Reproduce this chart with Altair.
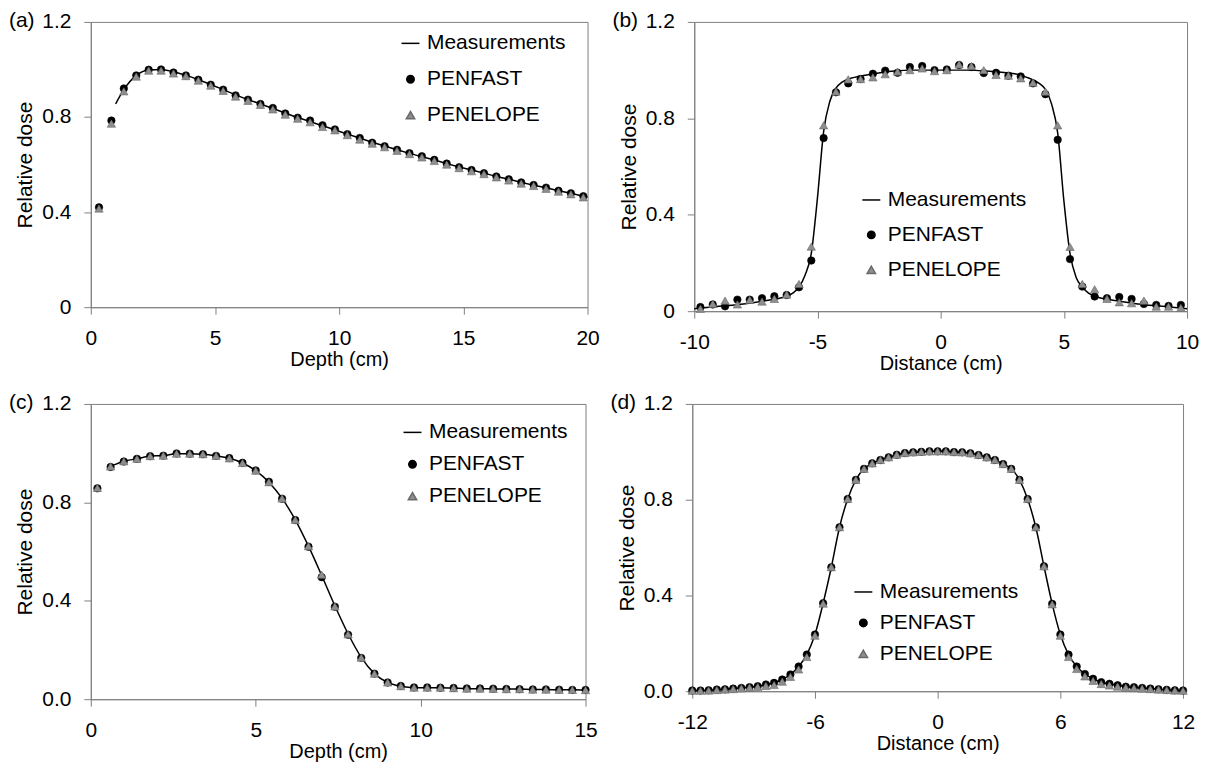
import altair as alt
import pandas as pd

SERIES = ["Measurements", "PENFAST", "PENELOPE"]

# ---------------- Panel (a): depth dose ----------------
a_meas_x = [1.0] + [1.33 + 0.5 * i for i in range(38)] + [20.0]
a_meas_y = [0.855, 0.915, 0.975, 0.998, 1.0, 0.99, 0.975, 0.957, 0.937, 0.915,
            0.893, 0.873, 0.855, 0.836, 0.816, 0.798, 0.781, 0.763, 0.746, 0.728,
            0.711, 0.694, 0.678, 0.662, 0.647, 0.633, 0.619, 0.604, 0.59, 0.577,
            0.564, 0.55, 0.538, 0.525, 0.513, 0.502, 0.49, 0.479, 0.467, 0.463]
a_pts_x = [0.33 + 0.5 * i for i in range(40)]
a_penfast = [0.42, 0.785, 0.92, 0.975, 0.999, 1.0, 0.987, 0.975, 0.957, 0.936,
             0.915, 0.891, 0.873, 0.855, 0.838, 0.815, 0.797, 0.785, 0.765, 0.748,
             0.728, 0.712, 0.692, 0.677, 0.662, 0.648, 0.635, 0.62, 0.604, 0.589,
             0.577, 0.564, 0.55, 0.538, 0.525, 0.514, 0.503, 0.49, 0.479, 0.467]
a_penelope = [0.415, 0.772, 0.908, 0.97, 0.995, 0.995, 0.983, 0.972, 0.953, 0.932,
              0.91, 0.886, 0.868, 0.851, 0.832, 0.81, 0.793, 0.778, 0.758, 0.744,
              0.724, 0.705, 0.688, 0.673, 0.658, 0.644, 0.63, 0.615, 0.6, 0.585,
              0.572, 0.56, 0.546, 0.533, 0.52, 0.51, 0.498, 0.486, 0.475, 0.462]

# ---------------- Panel (b): lateral profile ----------------
b_meas_x = [-10, -9, -8, -7, -6.5, -6, -5.75, -5.5, -5.25, -5.0,
            -4.75, -4.5, -4.25, -4.0, -3.5, -3.0, -2.0, -1.0, 0, 1.0,
            2.0, 3.0, 3.5, 4.0, 4.25, 4.5, 4.75, 5.0, 5.25, 5.5,
            5.75, 6.0, 6.5, 7.0, 8.0, 9.0, 10.0]
b_meas_y = [0.01, 0.02, 0.03, 0.045, 0.055, 0.075, 0.1, 0.15, 0.24, 0.47,
            0.745, 0.87, 0.925, 0.95, 0.97, 0.98, 0.995, 1.0, 1.0, 1.0,
            0.995, 0.985, 0.97, 0.945, 0.92, 0.86, 0.74, 0.46, 0.24, 0.14,
            0.1, 0.075, 0.055, 0.045, 0.03, 0.02, 0.01]
b_pts_x = [-9.75 + 0.5 * i for i in range(40)]
b_penfast = [0.017, 0.028, 0.02, 0.048, 0.048, 0.054, 0.062, 0.067, 0.099, 0.21,
             0.718, 0.908, 0.945, 0.963, 0.985, 0.998, 0.989, 1.013, 1.017, 1.0,
             1.003, 1.021, 1.013, 0.988, 0.989, 0.977, 0.974, 0.945, 0.9, 0.711,
             0.216, 0.102, 0.061, 0.054, 0.059, 0.051, 0.03, 0.026, 0.022, 0.026]
b_penelope = [0.01, 0.03, 0.044, 0.028, 0.047, 0.04, 0.051, 0.069, 0.113, 0.268,
              0.771, 0.911, 0.962, 0.963, 0.97, 0.983, 0.994, 1.0, 1.007, 0.996,
              1.0, 1.024, 1.017, 1.0, 0.98, 0.977, 0.966, 0.948, 0.911, 0.771,
              0.267, 0.113, 0.091, 0.051, 0.037, 0.033, 0.044, 0.019, 0.019, 0.014]

# ---------------- Panel (c): depth dose ----------------
c_pts_x = [round(0.2 + 0.4 * i, 2) for i in range(38)]
c_penelope = [0.859, 0.946, 0.967, 0.977, 0.988, 0.99, 0.998, 0.998, 0.996, 0.989,
              0.979, 0.96, 0.929, 0.882, 0.816, 0.729, 0.622, 0.506, 0.377, 0.264,
              0.169, 0.104, 0.068, 0.053, 0.047, 0.047, 0.047, 0.045, 0.043, 0.043,
              0.042, 0.041, 0.041, 0.039, 0.039, 0.038, 0.038, 0.037]
c_penfast = [0.857, 0.944, 0.966, 0.977, 0.988, 0.99, 0.999, 0.998, 0.996, 0.989,
             0.98, 0.961, 0.93, 0.884, 0.815, 0.728, 0.62, 0.496, 0.376, 0.262,
             0.168, 0.104, 0.068, 0.054, 0.048, 0.048, 0.047, 0.046, 0.044, 0.044,
             0.043, 0.042, 0.041, 0.04, 0.04, 0.039, 0.038, 0.038]
c_meas_x = [round(0.6 + 0.4 * i, 2) for i in range(37)]
c_meas_y = [0.946, 0.967, 0.977, 0.988, 0.99, 0.998, 0.998, 0.996, 0.989,
            0.979, 0.96, 0.929, 0.882, 0.816, 0.729, 0.622, 0.503, 0.38, 0.266,
            0.17, 0.104, 0.068, 0.053, 0.047, 0.047, 0.047, 0.045, 0.043, 0.043,
            0.042, 0.041, 0.041, 0.039, 0.039, 0.038, 0.038, 0.037]

# ---------------- Panel (d): lateral profile ----------------
d_pts_x = [round(-12 + 0.4 * i, 2) for i in range(61)]
d_penfast = [0.003, 0.003, 0.004, 0.007, 0.008, 0.011, 0.014, 0.017, 0.021, 0.028,
             0.035, 0.049, 0.07, 0.103, 0.153, 0.237, 0.368, 0.518, 0.685, 0.803,
             0.883, 0.929, 0.952, 0.966, 0.977, 0.988, 0.995, 0.998, 1.0, 1.002,
             1.002, 1.002, 0.999, 0.998, 0.994, 0.987, 0.977, 0.966, 0.949, 0.929,
             0.883, 0.803, 0.685, 0.522, 0.365, 0.237, 0.153, 0.103, 0.072, 0.052,
             0.038, 0.031, 0.025, 0.019, 0.017, 0.014, 0.011, 0.008, 0.006, 0.004,
             0.003]
d_penelope = [0.002, 0.002, 0.003, 0.005, 0.007, 0.009, 0.012, 0.015, 0.018, 0.022,
              0.026, 0.04, 0.06, 0.091, 0.143, 0.232, 0.366, 0.518, 0.685, 0.803,
              0.883, 0.929, 0.952, 0.966, 0.977, 0.988, 0.995, 0.998, 1.0, 1.002,
              1.002, 1.002, 0.999, 0.998, 0.994, 0.987, 0.977, 0.966, 0.949, 0.929,
              0.883, 0.803, 0.685, 0.522, 0.363, 0.232, 0.143, 0.093, 0.062, 0.043,
              0.03, 0.024, 0.019, 0.015, 0.013, 0.011, 0.009, 0.007, 0.005, 0.003,
              0.002]
d_meas_x = d_pts_x
d_meas_y = d_penfast

FONT = "Liberation Sans"
GRAY_AX = "#808080"
INDEP = dict(shape="independent", fill="independent", stroke="independent",
             size="independent")


def panel(label, meas_x, meas_y, pts_x, pf, pe, xdom, xticks, xtitle, yexpr,
          width, height, leg_x, leg_y, row_pad):
    meas = pd.DataFrame({"x": meas_x, "y": meas_y})
    pts = pd.DataFrame({
        "x": list(pts_x) + list(pts_x),
        "y": list(pf) + list(pe),
        "series": ["PENFAST"] * len(pf) + ["PENELOPE"] * len(pe),
        "order": [0] * len(pf) + [1] * len(pe),
    })
    xax = alt.Axis(values=xticks, labelExpr="'' + datum.value", title=xtitle,
                   titleY=52, titleBaseline="middle", titleFontSize=20,
                   tickSize=7, labelPadding=13)
    yaxis_kw = dict(values=[0, 0.4, 0.8, 1.2], title="Relative dose",
                    titleX=-59, titleBaseline="alphabetic", tickSize=7,
                    labelPadding=13)
    if yexpr:
        yax = alt.Axis(labelExpr=yexpr, **yaxis_kw)
    else:
        yax = alt.Axis(format=".1f", **yaxis_kw)
    xs = alt.Scale(domain=xdom, nice=False, zero=False)
    ys = alt.Scale(domain=[0, 1.2], nice=False)
    X = alt.X("x:Q", scale=xs, axis=xax)
    Y = alt.Y("y:Q", scale=ys, axis=yax)

    legend = alt.Legend(orient="none", legendX=leg_x, legendY=leg_y, title=None,
                        padding=0, labelFontSize=21, labelFont=FONT,
                        labelColor="black", rowPadding=row_pad, labelOffset=6,
                        symbolStrokeWidth=1.5, labelLimit=400)
    line = alt.Chart(meas).mark_line(color="black", strokeWidth=1.5,
                                     interpolate="monotone").encode(x=X, y=Y)
    points = alt.Chart(pts).mark_point(filled=True, opacity=1, strokeWidth=0.6).encode(
        x=X, y=Y,
        shape=alt.Shape("series:N", scale=alt.Scale(domain=SERIES,
                        range=["stroke", "circle", "triangle-up"]), legend=legend),
        fill=alt.Fill("series:N", scale=alt.Scale(domain=SERIES,
                      range=["black", "black", "#8e8e8e"]), legend=legend),
        stroke=alt.Stroke("series:N", scale=alt.Scale(domain=SERIES,
                          range=["black", "black", "#6a6a6a"]), legend=legend),
        size=alt.Size("series:N", scale=alt.Scale(type="ordinal", domain=SERIES,
                      range=[324, 56, 70]), legend=legend),
        order=alt.Order("order:Q"),
    )
    return alt.layer(line, points).properties(
        width=width, height=height,
        title=alt.TitleParams(text=label, anchor="start", frame="group",
                              fontSize=21, fontWeight="normal", font=FONT,
                              color="black", dx=-82, dy=20, offset=0),
    )


pa = panel("(a)", a_meas_x, a_meas_y, a_pts_x, a_penfast, a_penelope, [0, 20],
           [0, 5, 10, 15, 20], "Depth (cm)",
           "datum.value == 0 ? '0' : format(datum.value, '.1f')",
           498, 286, 310, 11, 14)
pb = panel("(b)", b_meas_x, b_meas_y, b_pts_x, b_penfast, b_penelope, [-10, 10],
           [-10, -5, 0, 5, 10], "Distance (cm)",
           "datum.value == 0 ? '0' : format(datum.value, '.1f')",
           494, 290, 167, 168, 13)
pc = panel("(c)", c_meas_x, c_meas_y, c_pts_x, c_penfast, c_penelope, [0, 15],
           [0, 5, 10, 15], "Depth (cm)", None,
           496, 296, 312, 18, 10)
pd_ = panel("(d)", d_meas_x, d_meas_y, d_pts_x, d_penfast, d_penelope, [-12, 12],
            [-12, -6, 0, 6, 12], "Distance (cm)", None,
            492, 288, 161, 178, 9)

row1 = alt.hconcat(pa, pb, spacing=11).resolve_scale(**INDEP).resolve_legend(**INDEP)
row2 = alt.hconcat(pc, pd_, spacing=11).resolve_scale(**INDEP).resolve_legend(**INDEP)

chart = alt.vconcat(row1, row2, spacing=17).resolve_scale(**INDEP).resolve_legend(
    **INDEP
).properties(padding=0).configure(font=FONT).configure_view(
    stroke=GRAY_AX, strokeWidth=1
).configure_axis(
    grid=False, domainColor=GRAY_AX, tickColor=GRAY_AX, labelColor="black",
    labelFont=FONT, labelFontSize=21, titleFont=FONT, titleFontSize=21,
    titleFontWeight="normal", titleColor="black", labelFlush=False,
)

chart.save("out.html", embed_options={"renderer": "svg", "actions": False})
